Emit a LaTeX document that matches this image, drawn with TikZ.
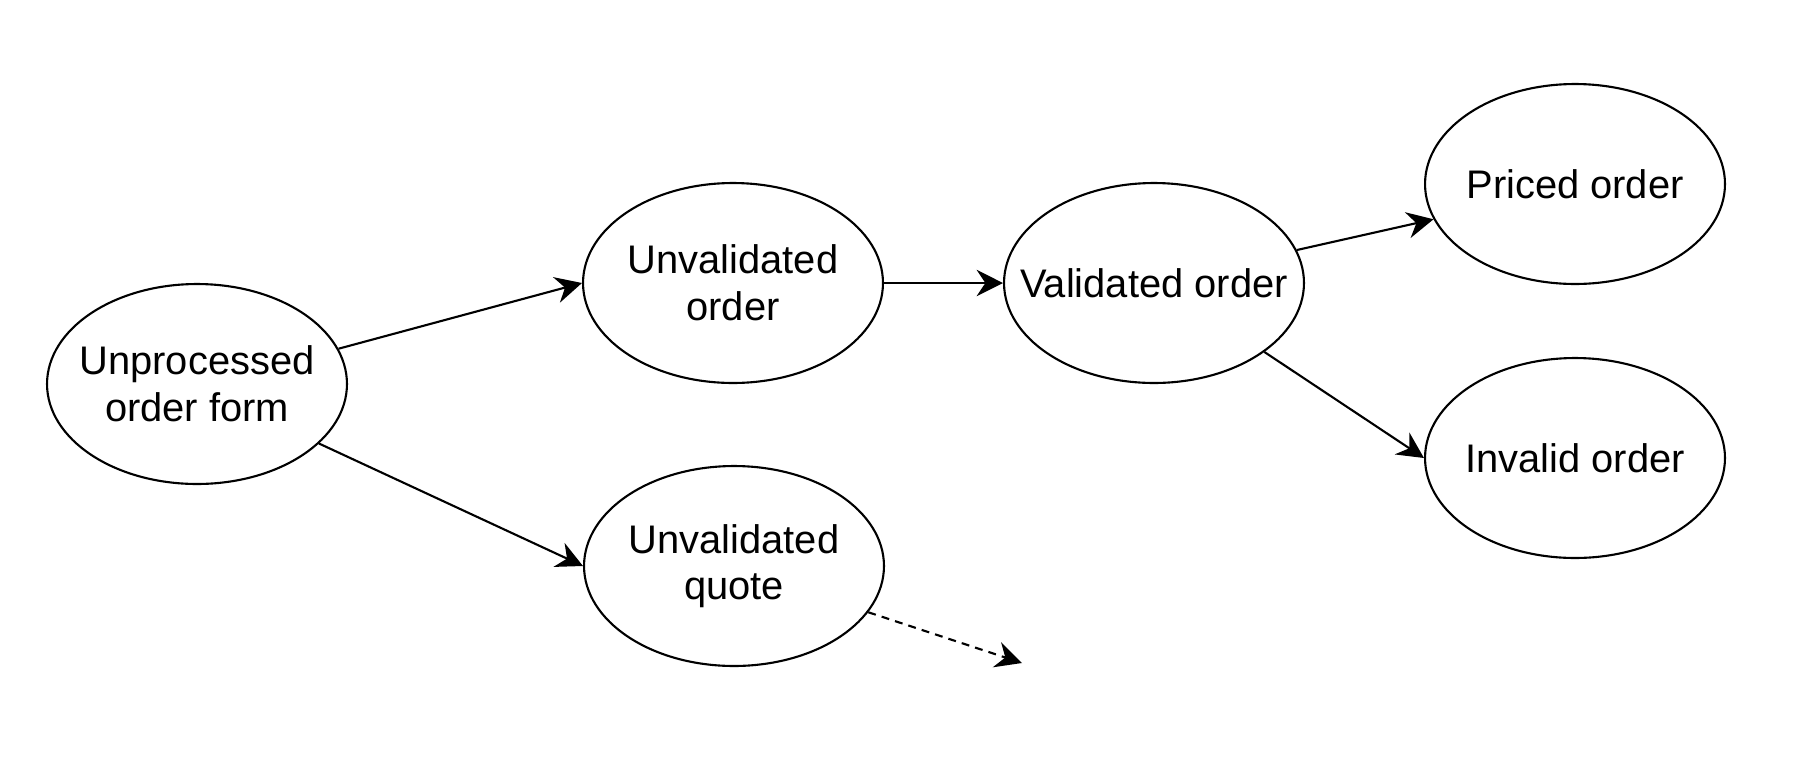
\documentclass[tikz,border=0pt]{standalone}
\usepackage{fontspec}
\setmainfont{Liberation Sans}
\usetikzlibrary{arrows.meta,shapes.geometric}
\tikzset{
    >={Stealth[length=15pt,width=15pt,inset=5pt]},
    every node/.append style={align=center,font={\fontsize{22.7}{26.5}\selectfont}},
    state/.style={ellipse,draw=black,line width=1.2pt,minimum width=6cm,minimum height=4cm,inner xsep=-0.7cm,inner ysep=0pt},
    flow/.style={->,line width=1.2pt},
}
\begin{document}
\begin{tikzpicture}[x=0.02cm,y=-0.02cm]
                \useasboundingbox (0,0) rectangle (1804,758);

                \node[state] (upf) at (197,384)  {Unprocessed\\order form};
                \node[state] (uvo) at (733,283)  {Unvalidated\\order};
                \node[state] (uvq) at (734,566)  {Unvalidated\\quote};
                \node[state] (vo)  at (1154,283) {Validated order};
                \node[state] (po)  at (1575,184) {Priced order};
                \node[state] (io)  at (1575,458) {Invalid order};
                \coordinate (qend) at (1022,663);

                \draw[flow] (upf.14)  -- (uvo.west);
                \draw[flow] (upf.-26) -- (uvq.west);
                \draw[flow] (uvo.east) -- (vo.west);
                \draw[flow] (vo.13)   -- (po.194);
                \draw[flow] (vo.-32)  -- (io.west);
                \draw[flow,dash pattern=on 4.5pt off 3.5pt] (uvq.-19) -- (qend);
        \end{tikzpicture}
\end{document}
